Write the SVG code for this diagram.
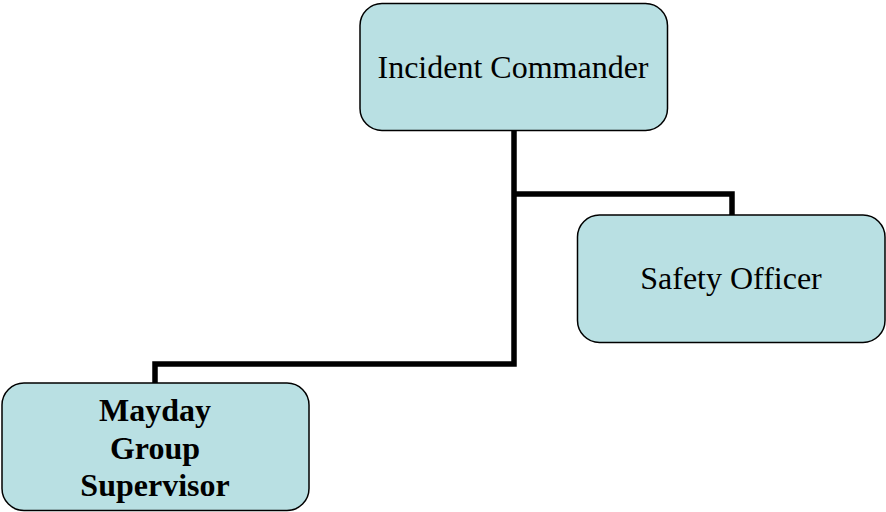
<svg xmlns="http://www.w3.org/2000/svg" width="886" height="512" viewBox="0 0 886 512">
<style>
.box{fill:#B9E0E3;stroke:#000;stroke-width:1.5}
.t{font-family:"Liberation Serif","Times New Roman",serif;font-size:32px;fill:#000;text-anchor:middle}
.b{font-weight:bold}
.c{fill:none;stroke:#000;stroke-width:5.5;stroke-linejoin:miter}
</style>
<rect width="886" height="512" fill="#fff"/>
<g id="connectors">
<polyline class="c" points="514,131 514,364 155,364 155,383"/>
<polyline class="c" points="514,194 732,194 732,215"/>
</g>
<g id="incident-commander">
<rect class="box" x="360" y="3.5" width="307.5" height="127" rx="22"/>
<text class="t" x="513" y="78">Incident Commander</text>
</g>
<g id="safety-officer">
<rect class="box" x="577.5" y="215" width="307.5" height="127.5" rx="22"/>
<text class="t" x="731" y="289">Safety Officer</text>
</g>
<g id="mayday-group-supervisor">
<rect class="box" x="2" y="383" width="307" height="127.5" rx="22"/>
<text class="t b" x="155" y="421">Mayday</text>
<text class="t b" x="155" y="458.5">Group</text>
<text class="t b" x="155" y="496">Supervisor</text>
</g>
</svg>
